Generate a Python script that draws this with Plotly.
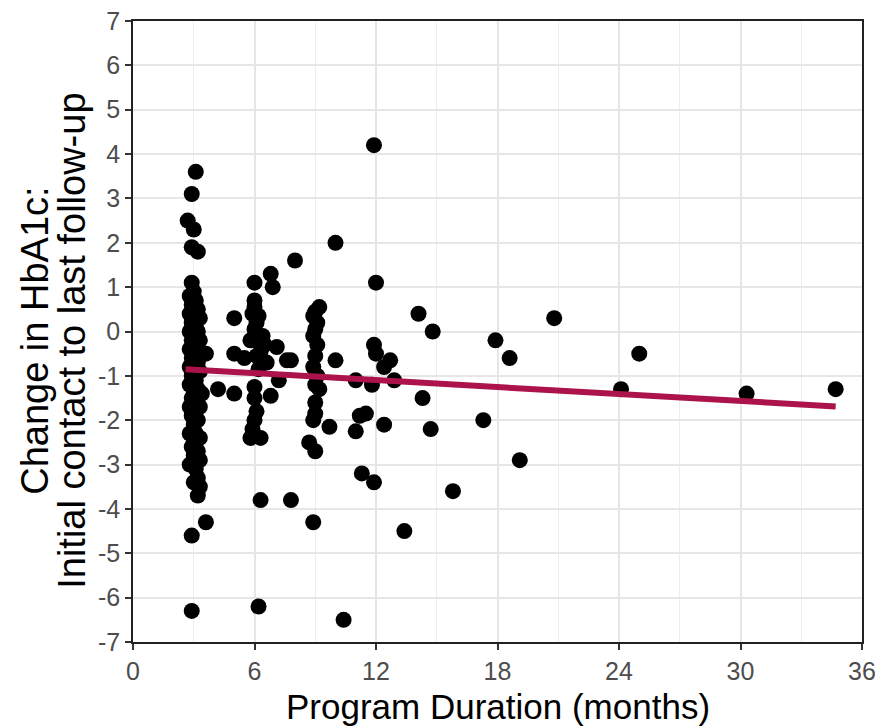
import plotly.graph_objects as go

# ---- data ----
col3_x = [2.9, 3.0, 2.8, 3.1, 2.9, 3.2, 2.8, 3.0, 3.3, 2.9, 3.1, 2.8, 3.2, 3.0, 2.9, 3.3, 3.1, 2.8,
          3.0, 3.4, 2.9, 3.2, 2.8, 3.0, 3.3, 2.9, 3.1, 2.8, 3.2, 3.0, 3.4, 2.9, 3.1, 2.8, 3.3, 3.0,
          2.9, 3.2, 3.0, 2.8, 3.1, 3.3, 3.0, 2.9, 3.2, 3.0, 3.3, 2.8, 3.1, 3.2, 3.0, 3.3, 3.2,
          3.1, 2.9, 2.7, 3.0, 2.9, 3.2, 3.6, 2.9, 2.9,
          3.6, 4.2, 5.0, 5.0, 5.0]
col3_y = [1.1, 0.9, 0.8, 0.7, 0.6, 0.5, 0.4, 0.3, 0.3, 0.2, 0.1, 0.0, 0.0, -0.1, -0.2, -0.2, -0.3, -0.4,
          -0.5, -0.5, -0.6, -0.7, -0.8, -0.9, -0.9, -1.0, -1.1, -1.2, -1.3, -1.4, -1.4, -1.5, -1.6, -1.7, -1.7, -1.8,
          -1.9, -2.0, -2.1, -2.3, -2.3, -2.4, -2.5, -2.6, -2.7, -2.8, -2.9, -3.0, -3.1, -3.3, -3.4, -3.5, -3.7,
          3.6, 3.1, 2.5, 2.3, 1.9, 1.8, -4.3, -4.6, -6.3,
          -0.5, -1.3, -1.4, 0.3, -0.5]

col6_x = [6.0, 6.8, 6.9, 6.0, 6.0, 6.1, 6.0, 6.4, 5.9, 6.2, 7.1, 5.5, 6.1, 6.3, 7.6, 7.2, 6.0, 6.8,
          6.0, 6.2, 6.1, 6.0, 5.9, 5.8, 6.3, 6.3, 6.2, 7.8, 8.0, 6.5, 5.8, 6.6]
col6_y = [1.1, 1.3, 1.0, 0.7, 0.55, 0.2, 0.05, -0.1, 0.4, 0.35, -0.35, -0.6, -0.55, -0.45, -0.65, -1.1, -1.25, -1.45,
          -1.5, -0.85, -1.8, -2.0, -2.2, -2.4, -2.4, -3.8, -6.2, -3.8, 1.6, -0.3, -0.2, -0.7]

col9_x = [9.2, 9.0, 8.9, 9.1, 9.0, 8.9, 9.1, 9.0, 8.9, 9.1, 9.0, 9.2, 9.0, 9.0, 8.9, 8.7, 9.0, 8.9,
          7.8, 10.0, 9.7, 10.0, 10.4]
col9_y = [0.55, 0.45, 0.35, 0.2, 0.05, -0.1, -0.3, -0.55, -0.8, -1.0, -1.2, -1.3, -1.6, -1.85, -2.0, -2.5, -2.7, -4.3,
          -0.65, -0.65, -2.15, 2.0, -6.5]

late_x = [11.9, 12.0, 11.9, 12.0, 12.7, 12.4, 11.0, 11.8, 12.9, 11.2, 11.5, 12.4, 11.0, 11.3, 11.9, 13.4,
          14.1, 14.8, 14.3, 14.7, 15.8, 17.3, 17.9, 18.6, 19.1, 20.8, 25.0, 24.1, 30.3, 34.7]
late_y = [4.2, 1.1, -0.3, -0.5, -0.65, -0.8, -1.1, -1.2, -1.1, -1.9, -1.85, -2.1, -2.25, -3.2, -3.4, -4.5,
          0.4, 0.0, -1.5, -2.2, -3.6, -2.0, -0.2, -0.6, -2.9, 0.3, -0.5, -1.3, -1.4, -1.3]

duration = col3_x + col6_x + col9_x + late_x
hba1c_change = col3_y + col6_y + col9_y + late_y

# fitted linear trend (end points)
trend_x = [2.6, 34.7]
trend_y = [-0.85, -1.69]

x_ticks = [0, 6, 12, 18, 24, 30, 36]
y_ticks = [7, 6, 5, 4, 3, 2, 1, 0, -1, -2, -3, -4, -5, -6, -7]
y_tick_labels = ["7", "6", "5", "4", "3", "2", "1", "0", "-1", "-2", "-3", "-4", "-5", "-6", "-7"]

x_title = "Program Duration (months)"
y_title_lines = ["Change in HbA1c:", "Initial contact to last follow-up"]

FONT = "Liberation Sans, Arial"

fig = go.Figure()
fig.add_trace(go.Scatter(
    x=duration, y=hba1c_change, mode="markers",
    marker=dict(color="black", size=16, line=dict(width=0)),
    showlegend=False, hoverinfo="x+y"))
fig.add_trace(go.Scatter(
    x=trend_x, y=trend_y, mode="lines",
    line=dict(color="#AC134B", width=6),
    showlegend=False))

axis_common = dict(
    showline=True, mirror=True, linecolor="#222222", linewidth=1.5,
    ticks="outside", ticklen=6, tickcolor="#333333", tickwidth=1.5,
    gridcolor="#e6e6e6", gridwidth=1.5, zeroline=False, automargin=False,
    ticklabeloverflow="allow",
    tickfont=dict(family=FONT, size=25, color="#4d4d4d"),
)

fig.update_layout(
    width=895, height=727,
    margin=dict(l=125, r=41, t=13, b=93),
    plot_bgcolor="white", paper_bgcolor="white",
    xaxis=dict(
        range=[0, 36], tickvals=x_ticks,
        minor=dict(tickvals=[3, 9, 15, 21, 27, 33], showgrid=True, gridcolor="#ededed", gridwidth=1, ticks=""),
        **axis_common),
    yaxis=dict(range=[-7, 7], tickvals=y_ticks, ticktext=y_tick_labels, **axis_common),
)

# axis titles as annotations (tight ggplot-like line spacing)
fig.add_annotation(text=x_title, xref="paper", yref="paper", x=0.5, y=0,
                   xanchor="center", yanchor="middle", yshift=-64, showarrow=False,
                   font=dict(family=FONT, size=35, color="black"))
for line, shift in zip(y_title_lines, [-98, -61]):
    fig.add_annotation(text=line, xref="paper", yref="paper", x=0, y=0.485,
                       xanchor="center", yanchor="middle", xshift=shift, textangle=-90,
                       showarrow=False, font=dict(family=FONT, size=38, color="black"))

fig.write_html("out.html")
